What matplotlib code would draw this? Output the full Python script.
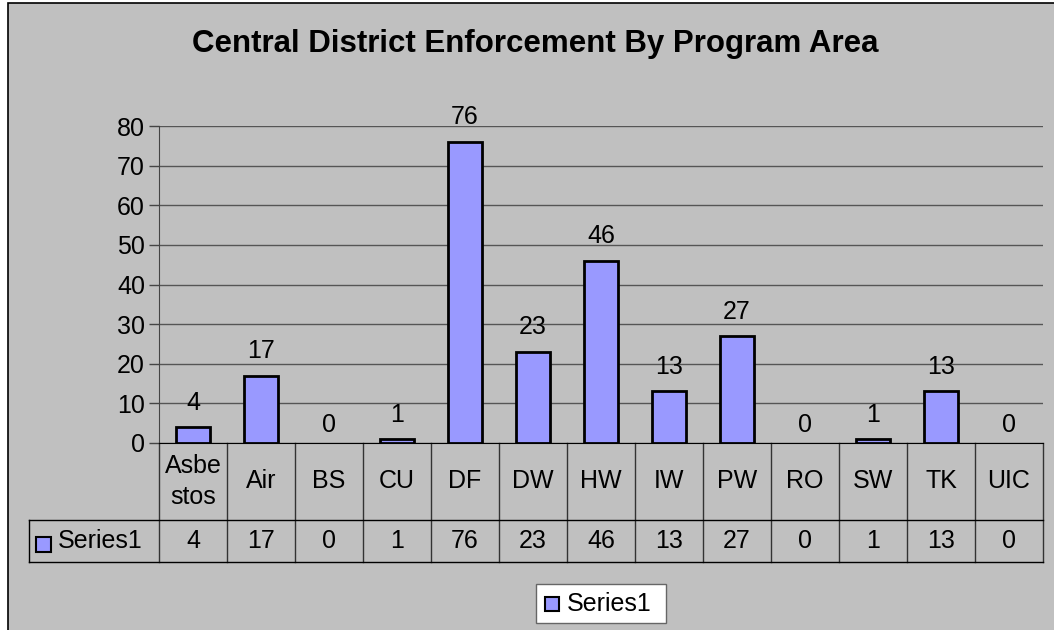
import matplotlib
matplotlib.use("Agg")
import matplotlib.pyplot as plt
from matplotlib.patches import Rectangle
from matplotlib.lines import Line2D
from matplotlib.transforms import blended_transform_factory

# datos
categorias = ["Asbe\nstos", "Air", "BS", "CU", "DF", "DW", "HW", "IW",
              "PW", "RO", "SW", "TK", "UIC"]
valores = [4, 17, 0, 1, 76, 23, 46, 13, 27, 0, 1, 13, 0]
serie = "Series1"
titulo = "Central District Enforcement By Program Area"

W, H = 1054, 630
GRIS = "#C0C0C0"
BARRA = "#9999FF"
FS = 18
plt.rcParams["font.family"] = ["Liberation Sans", "DejaVu Sans"]

fig = plt.figure(figsize=(W / 100, H / 100), dpi=100, facecolor="white")


def fy(py):
    return 1 - py / H


def fx(px):
    return px / W


# fondo del area del grafico con borde (detras de los ejes)
fig.patches.append(Rectangle((fx(8), -0.05), 1.1, fy(3) + 0.05,
                             transform=fig.transFigure, facecolor=GRIS,
                             edgecolor="black", lw=1.2, zorder=-5))

x0, x1, ytop, ybot = 159, 1043, 126, 443
ax = fig.add_axes([fx(x0), fy(ybot), fx(x1 - x0), fy(ytop) - fy(ybot)])
ax.patch.set_alpha(0)
n = len(valores)
xs = list(range(n))
# las barras en cero no se dibujan en el original
anchos = [2 if v > 0 else 0 for v in valores]
ax.bar(xs, valores, width=0.5, color=BARRA, edgecolor="black", lw=anchos,
       zorder=3)
for x, v in zip(xs, valores):
    off = 9 if v > 0 else 4
    ax.annotate(str(v), (x, v), xytext=(0, off), textcoords="offset points",
                ha="center", va="bottom", fontsize=FS)

ax.set_xlim(-0.5, n - 0.5)
ax.set_ylim(0, 80)
ax.set_yticks(range(0, 81, 10))
ax.tick_params(axis="y", labelsize=FS, length=7, width=1, pad=3,
               color="#444444")
ax.set_xticks([])
for s in ["top", "right"]:
    ax.spines[s].set_visible(False)
ax.spines["left"].set_color("#444444")
ax.spines["bottom"].set_color("black")
ax.grid(axis="y", color="#555555", lw=1, zorder=1)
ax.set_axisbelow(True)

fig.text(fx(535), fy(44), titulo, ha="center", va="center", fontsize=22.5,
         fontweight="bold")

# tabla de datos debajo del eje
tr = blended_transform_factory(ax.transData, fig.transFigure)
fila1, fila2 = 520, 562
for i in range(n + 1):
    ax.add_line(Line2D([i - 0.5, i - 0.5], [fy(ybot), fy(fila2)],
                       transform=tr, color="#333333", lw=1, clip_on=False))
for py in (fila1, fila2):
    fig.add_artist(Line2D([fx(29), fx(x1)], [fy(py), fy(py)],
                          color="black", lw=1))
fig.add_artist(Line2D([fx(29), fx(29)], [fy(fila1), fy(fila2)],
                      color="black", lw=1))
for x, c, v in zip(xs, categorias, valores):
    ax.text(x, fy((ybot + fila1) / 2), c, transform=tr, ha="center",
            va="center", fontsize=FS, linespacing=1.35)
    ax.text(x, fy((fila1 + fila2) / 2), str(v), transform=tr, ha="center",
            va="center", fontsize=FS)

# clave de la serie en la tabla
fig.patches.append(Rectangle((fx(36), fy(552)), fx(15), fy(537) - fy(552),
                             transform=fig.transFigure, facecolor=BARRA,
                             edgecolor="black", lw=1.5))
fig.text(fx(58), fy(541), serie, ha="left", va="center", fontsize=FS)

# leyenda
fig.patches.append(Rectangle((fx(536), fy(623)), fx(130), fy(584) - fy(623),
                             transform=fig.transFigure, facecolor="white",
                             edgecolor="#666666", lw=1))
fig.patches.append(Rectangle((fx(545), fy(611)), fx(14), fy(597) - fy(611),
                             transform=fig.transFigure, facecolor=BARRA,
                             edgecolor="black", lw=1.5))
fig.text(fx(567), fy(604), serie, ha="left", va="center", fontsize=FS)

fig.savefig("out.png", dpi=100, facecolor="white")
